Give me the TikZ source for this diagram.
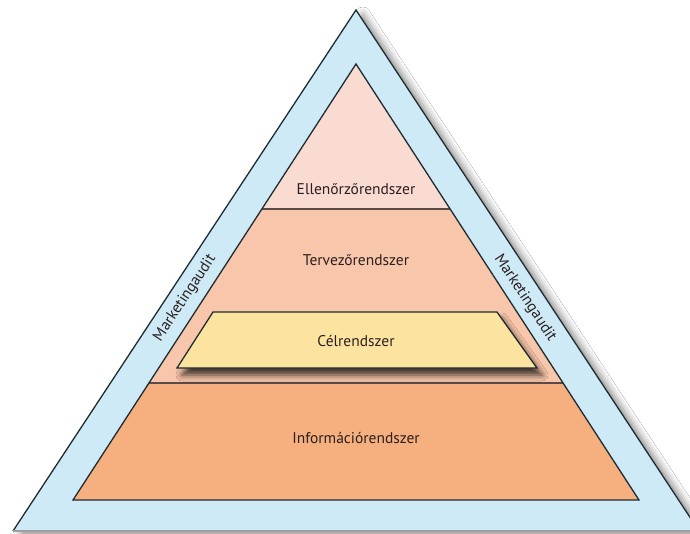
\documentclass[tikz,border=0pt]{standalone}
\usepackage{fontspec}
\setmainfont{PT Sans}
\usetikzlibrary{shadows.blur}
\definecolor{band}{HTML}{CFEAF7}
\definecolor{topc}{HTML}{FADBD2}
\definecolor{midc}{HTML}{F8C6AA}
\definecolor{botc}{HTML}{F6AF7E}
\definecolor{goal}{HTML}{FDE3A0}
\definecolor{edge}{HTML}{1E2B30}
\definecolor{divl}{HTML}{5B4A45}
\definecolor{txt}{HTML}{2A2020}
\tikzset{
  lbl/.style={font=\fontsize{15.5}{18}\selectfont, text=txt, inner sep=0pt},
  outline/.style={draw=edge, line width=1.3pt, line join=miter},
  divider/.style={draw=divl, line width=1.3pt}
}
\begin{document}
\begin{tikzpicture}[x=1pt,y=-1pt]
\useasboundingbox (0,0) rectangle (690,533);
\clip (0,0) rectangle (690,533);
\fill[white] (0,0) rectangle (690,533);
% outer triangle (audit band)
\path[blur shadow={shadow xshift=7pt, shadow yshift=-4pt, shadow blur radius=7pt, shadow opacity=45}, fill=band]
  (356,10) -- (13,531) -- (699,531) -- cycle;
\draw[outline] (13,531) -- (356,10) -- (699,531);
\draw[gray!75, line width=1.5pt] (13,531) -- (699,531);
% pyramid levels
\fill[topc] (356,64) -- (262,209) -- (450,209) -- cycle;
\fill[midc] (262,209) -- (450,209) -- (563,383) -- (149,383) -- cycle;
\fill[botc] (149,383) -- (563,383) -- (639,500) -- (73,500) -- cycle;
\draw[divider] (262,209) -- (450,209);
\draw[divider] (149,383) -- (563,383);
\draw[outline] (356,64) -- (73,500) -- (639,500) -- cycle;
% goal system
\path[blur shadow={shadow xshift=5pt, shadow yshift=-7pt, shadow blur radius=6pt, shadow opacity=75}, fill=goal, outline]
  (213,312) -- (497,312) -- (537,368) -- (177,368) -- cycle;
% labels
\node[lbl] (ell) at (356,189) {Ellenőrzőrendszer};
\node[lbl] (ter) at (356,260) {Tervezőrendszer};
\node[lbl] (cel) at (356,341) {Célrendszer};
\node[lbl] (inf) at (356,438) {Információrendszer};
\node[lbl, rotate=56.6] (mal) at (185,298) {Marketingaudit};
\node[lbl, rotate=-56.6] (mar) at (525,298) {Marketingaudit};
\end{tikzpicture}
\end{document}
